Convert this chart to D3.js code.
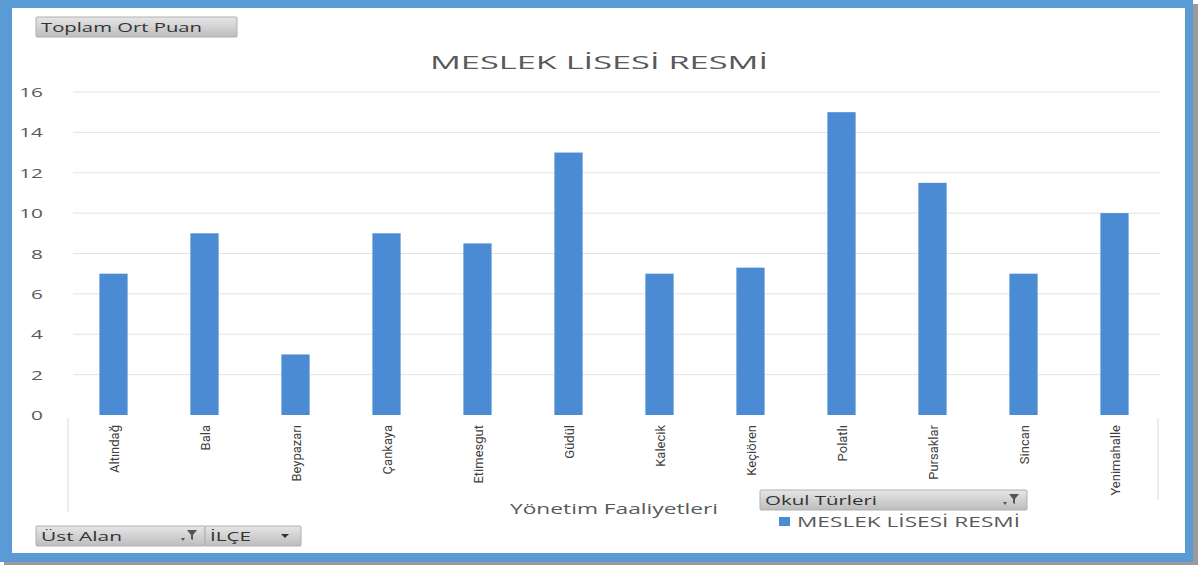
<!DOCTYPE html>
<html lang="tr">
<head>
<meta charset="UTF-8">
<script src="https://cdn.jsdelivr.net/npm/d3@7"></script>
<title>MESLEK LİSESİ RESMİ</title>
<style>
  body { margin: 0; background: #fff; }
  svg text { font-family: "Open Sans", "DejaVu Sans", sans-serif; }
  .cat { font-family: "Liberation Sans Narrow", "Roboto", sans-serif; font-size: 13px; fill: #404040; }
  .ytick { font-size: 13px; fill: #595959; }
</style>
</head>
<body>
<script>
const districts = ["Altındağ", "Bala", "Beypazarı", "Çankaya", "Etimesgut", "Güdül",
  "Kalecik", "Keçiören", "Polatlı", "Pursaklar", "Sincan", "Yenimahalle"];
const values = [7, 9, 3, 9, 8.5, 13, 7, 7.3, 15, 11.5, 7, 10];
const yTicks = [0, 2, 4, 6, 8, 10, 12, 14, 16];
const seriesName = "MESLEK LİSESİ RESMİ";

const W = 1198, H = 565;
const svg = d3.select("body").append("svg").attr("width", W).attr("height", H);

const defs = svg.append("defs");
const grad = defs.append("linearGradient").attr("id", "btn").attr("x1", 0).attr("y1", 0).attr("x2", 0).attr("y2", 1);
grad.append("stop").attr("offset", "0%").attr("stop-color", "#e6e6e6");
grad.append("stop").attr("offset", "100%").attr("stop-color", "#bdbdbd");

// frame + shadow
svg.append("rect").attr("x", 4).attr("y", 4).attr("width", W - 4).attr("height", H - 4).attr("fill", "#9a9a9a");
svg.append("rect").attr("x", 0).attr("y", 0).attr("width", 1193).attr("height", 562).attr("fill", "#5b9bd5");
svg.append("rect").attr("x", 12).attr("y", 8).attr("width", 1173).attr("height", 545).attr("fill", "#fff");

const x = d3.scaleBand().domain(districts).range([68, 1160]).paddingInner(0.69).paddingOuter(0.345);
const y = d3.scaleLinear().domain([0, 16]).range([415, 92]);

// the source picture is stretched sideways, so texts get a fixed width
function wideText(g, x0, y0, size, len, str, fill) {
  return g.append("text").attr("x", x0).attr("y", y0).attr("font-size", size)
    .attr("fill", fill || "#595959")
    .attr("textLength", len).attr("lengthAdjust", "spacingAndGlyphs")
    .text(str);
}

// gridlines
svg.append("g").selectAll("line").data(yTicks.filter(d => d > 0)).join("line")
  .attr("x1", 73).attr("x2", 1160)
  .attr("y1", d => y(d)).attr("y2", d => y(d))
  .attr("stroke", "#e3e3e3").attr("stroke-width", 1);

// y labels
svg.append("g").selectAll("text").data(yTicks).join("text")
  .attr("class", "ytick")
  .attr("text-anchor", "end")
  .attr("transform", d => `translate(43,${y(d) + 5}) scale(1.6,1)`)
  .text(d => d);

// bars
svg.append("g").selectAll("rect").data(values).join("rect")
  .attr("x", (d, i) => x(districts[i]))
  .attr("y", d => y(d))
  .attr("width", x.bandwidth())
  .attr("height", d => y(0) - y(d))
  .attr("fill", "#4a8bd4");

// category area lines
svg.append("line").attr("x1", 68).attr("x2", 68).attr("y1", 418).attr("y2", 512).attr("stroke", "#d9d9d9");
svg.append("line").attr("x1", 1158).attr("x2", 1158).attr("y1", 418).attr("y2", 500).attr("stroke", "#d9d9d9");

// category labels
svg.append("g").selectAll("text").data(districts).join("text")
  .attr("class", "cat")
  .attr("transform", d => `translate(${x(d) + x.bandwidth() / 2 + 5},425) rotate(-90)`)
  .attr("text-anchor", "end")
  .text(d => d);

// title
wideText(svg, 430, 69, 18, 338, seriesName);

// axis title
wideText(svg, 510, 514, 14, 208, "Yönetim Faaliyetleri");

// field buttons
function button(x0, y0, w, label, len, icon) {
  const g = svg.append("g");
  g.append("rect").attr("x", x0).attr("y", y0).attr("width", w).attr("height", 20)
    .attr("fill", "url(#btn)").attr("stroke", "#b0b0b0").attr("rx", 1);
  wideText(g, x0 + 5, y0 + 15, 13, len, label, "#333");
  const ix = x0 + w - 18;
  if (icon === "filter") {
    g.append("path").attr("d", `M${ix},${y0 + 4}h10l-4,5v5l-2,-1v-4z`).attr("fill", "#555");
    g.append("path").attr("d", `M${ix - 6},${y0 + 12}h4l-2,3z`).attr("fill", "#555");
  } else if (icon === "drop") {
    g.append("path").attr("d", `M${ix - 2},${y0 + 8}h8l-4,4z`).attr("fill", "#333");
  }
}
button(36, 17, 201, "Toplam Ort Puan", 161, null);
button(760, 490, 267, "Okul Türleri", 112, "filter");
button(36, 526, 169, "Üst Alan", 81, "filter");
button(205, 526, 96, "İLÇE", 41, "drop");

// legend
svg.append("rect").attr("x", 779).attr("y", 517).attr("width", 11).attr("height", 9).attr("fill", "#4a8bd4");
wideText(svg, 797, 527, 14, 223, seriesName);
</script>
</body>
</html>
